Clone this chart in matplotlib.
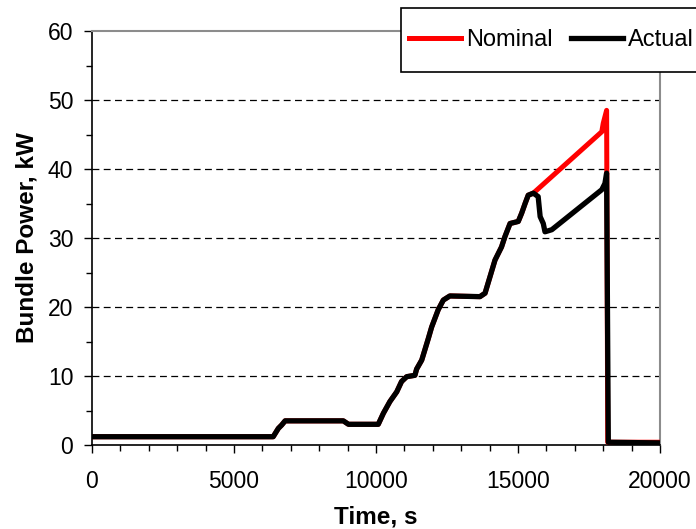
import matplotlib
matplotlib.use("Agg")
import matplotlib.pyplot as plt
from matplotlib.ticker import MultipleLocator
from matplotlib.patches import Rectangle

plt.rcParams['font.family'] = ['Liberation Sans', 'DejaVu Sans']

# Shared part of both series (time s, power kW)
t_common = [0, 6380, 6560, 6680, 6800, 8850, 9030, 10080, 10260, 10490, 10730,
            10900, 11080, 11370, 11430, 11610, 11840, 11960, 12190, 12370, 12600,
            13660, 13840, 14190, 14420, 14540, 14720, 15010, 15130, 15250, 15360, 15540]
p_common = [1.2, 1.2, 2.4, 2.9, 3.5, 3.5, 3.0, 3.0, 4.6, 6.3, 7.7,
            9.2, 9.9, 10.1, 11.0, 12.3, 15.4, 17.1, 19.6, 21.0, 21.6,
            21.5, 22.0, 26.8, 28.7, 30.2, 32.1, 32.4, 33.6, 35.0, 36.2, 36.5]

# Nominal tail
t_nom_tail = [17950, 18000, 18120, 18160, 20000]
p_nom_tail = [45.4, 46.6, 48.5, 0.4, 0.4]

# Actual tail
t_act_tail = [15710, 15780, 15890, 15950, 16190, 17950, 18060, 18120, 18180, 20000]
p_act_tail = [36.0, 33.1, 32.1, 30.9, 31.2, 37.0, 37.9, 39.4, 0.4, 0.3]

t_nom = t_common + t_nom_tail
p_nom = p_common + p_nom_tail
t_act = t_common + t_act_tail
p_act = p_common + p_act_tail

W, H = 696, 529
fig = plt.figure(figsize=(W / 100, H / 100), dpi=100)
ax = fig.add_axes([92 / W, 1 - 445 / H, (660 - 92) / W, (445 - 31) / H])

ax.plot(t_nom, p_nom, color='#ff0000', lw=3.6, solid_joinstyle='round', label='Nominal', zorder=3)
ax.plot(t_act, p_act, color='black', lw=3.8, solid_joinstyle='round', label='Actual', zorder=4)

ax.set_xlim(0, 20000)
ax.set_ylim(0, 60)
ax.xaxis.set_major_locator(MultipleLocator(5000))
ax.xaxis.set_minor_locator(MultipleLocator(1000))
ax.yaxis.set_major_locator(MultipleLocator(10))
ax.yaxis.set_minor_locator(MultipleLocator(5))

for yv in [10, 20, 30, 40, 50]:
    ax.axhline(yv, color='black', lw=0.9, dashes=(5.5, 3.5), zorder=1)

ax.tick_params(axis='both', which='major', direction='out', length=6, width=1,
               labelsize=16.5, color='black')
ax.tick_params(axis='both', which='minor', direction='out', length=4.5, width=1, color='black')
ax.tick_params(axis='y', which='major', pad=7.5)
ax.tick_params(axis='x', which='major', pad=12)

for s in ['left', 'bottom']:
    ax.spines[s].set_color('black')
    ax.spines[s].set_linewidth(1.2)
for s in ['top', 'right']:
    ax.spines[s].set_color('#8c8c8c')
    ax.spines[s].set_linewidth(1.5)

ax.set_xlabel('Time, s', fontsize=17.5, fontweight='bold', labelpad=9)
ax.set_ylabel('Bundle Power, kW', fontsize=17.5, fontweight='bold', labelpad=7)

# Legend box
rect = Rectangle((401 / W, 1 - 71.7 / H), (720 - 401) / W, (71.7 - 8) / H,
                 transform=fig.transFigure, facecolor='white', edgecolor='black',
                 lw=1.2, zorder=4)
fig.patches.append(rect)
leg = fig.legend(loc='center left', bbox_to_anchor=(409 / W, 1 - 40 / H), ncol=2,
                 frameon=False, fontsize=17, handlelength=2.2, handletextpad=0.2,
                 columnspacing=0.8, borderpad=0, borderaxespad=0)
leg.set_zorder(5)

fig.savefig('out.png', dpi=100)
